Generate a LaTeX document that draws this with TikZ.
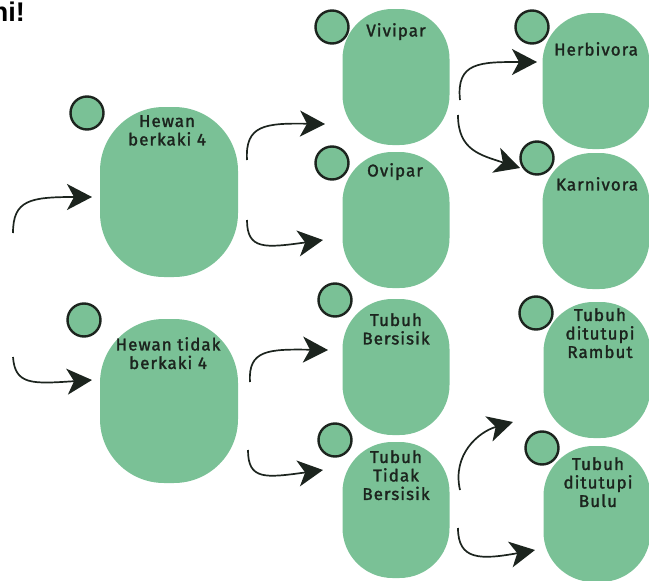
\documentclass[tikz,border=0pt]{standalone}
\usepackage{fontspec}
\setmainfont{Fira Sans}[LetterSpace=6, FakeBold=1.6]
\newfontfamily\titlefont{Liberation Sans}
\usetikzlibrary{arrows.meta}
\definecolor{leaf}{RGB}{122,193,150}
\definecolor{ink}{RGB}{28,36,30}
\begin{document}
\begin{tikzpicture}[x=1pt,y=-1pt,
  bigblob/.style={fill=leaf, draw=none, rounded corners=64pt, minimum width=138pt, inner sep=0pt},
  blob/.style={fill=leaf, draw=none, rounded corners=50pt, minimum width=107pt, minimum height=136pt, inner sep=0pt},
  dot/.style={circle, fill=leaf, draw=ink, line width=2.4pt, minimum size=33pt, inner sep=0pt},
  txt/.style={font=\fontsize{17}{18.5}\selectfont, text=ink, align=center, anchor=north, inner sep=0pt},
  conn/.style={draw=ink, line width=1.7pt, -{Stealth[length=25pt,width=26pt,inset=7pt]}}
]
\useasboundingbox (0,0) rectangle (649,581);

% title fragment
\node[font=\titlefont\bfseries\fontsize{27}{27}\selectfont, anchor=base east, inner sep=0pt] (title) at (25,21) {ni!};

% ovals
\node[bigblob, minimum height=170pt] (h4) at (169,192) {};
\node[bigblob, minimum height=164pt] (ht4) at (169,401) {};
\node[blob] (viv) at (396,77) {};
\node[blob] (ovi) at (396,220) {};
\node[blob] (tbs) at (396,367) {};
\node[blob] (tts) at (396,510) {};
\node[blob] (her) at (596,81) {};
\node[blob] (kar) at (596,221) {};
\node[blob] (ram) at (597,370) {};
\node[blob] (bul) at (597,514) {};

% small circles
\node[dot] (d1) at (87,113) {};
\node[dot] (d2) at (84,320) {};
\node[dot] (d3) at (332,27) {};
\node[dot] (d4) at (332,163) {};
\node[dot] (d5) at (335,300) {};
\node[dot] (d6) at (335,440) {};
\node[dot] (d7) at (532,27) {};
\node[dot] (d8) at (537,158) {};
\node[dot] (d9) at (536,313) {};
\node[dot] (d10) at (542,448) {};

% labels
\node[txt] (t1) at (167,115) {Hewan\\berkaki 4};
\node[txt] (t2) at (168,337) {Hewan tidak\\berkaki 4};
\node[txt] (t3) at (396,23) {Vivipar};
\node[txt] (t4) at (395,163) {Ovipar};
\node[txt] (t5) at (396,313) {Tubuh\\Bersisik};
\node[txt] (t6) at (396,450) {Tubuh\\Tidak\\Bersisik};
\node[txt] (t7) at (596,42) {Herbivora};
\node[txt] (t8) at (597,177) {Karnivora};
\node[txt] (t9) at (600,308) {Tubuh\\ditutupi\\Rambut};
\node[txt] (t10) at (598,457) {Tubuh\\ditutupi\\Bulu};

% arrow end points
\coordinate (a1s) at (13,233);  \coordinate (a1e) at (92,197);
\coordinate (a2s) at (13,357);  \coordinate (a2e) at (92,380);
\coordinate (a3s) at (247,160); \coordinate (a3e) at (325,124);
\coordinate (a4s) at (247,220); \coordinate (a4e) at (323,240);
\coordinate (a5s) at (250,382); \coordinate (a5e) at (328,350);
\coordinate (a6s) at (248,450); \coordinate (a6e) at (323,470);
\coordinate (a7s) at (460,100); \coordinate (a7e) at (537,62);
\coordinate (a8s) at (458,115); \coordinate (a8e) at (520,168);
\coordinate (a9s) at (460,490); \coordinate (a9e) at (513,422);
\coordinate (a10s) at (458,528); \coordinate (a10e) at (535,550);

\draw[conn] (a1s) .. controls (13,200) and (30,197) .. (a1e);
\draw[conn] (a2s) .. controls (15,385) and (32,384) .. (a2e);
\draw[conn] (a3s) .. controls (245,125) and (265,123) .. (a3e);
\draw[conn] (a4s) .. controls (247,250) and (265,248) .. (a4e);
\draw[conn] (a5s) .. controls (248,350) and (268,349) .. (a5e);
\draw[conn] (a6s) .. controls (248,480) and (265,478) .. (a6e);
\draw[conn] (a7s) .. controls (456,62) and (480,62) .. (a7e);
\draw[conn] (a8s) .. controls (458,150) and (480,155) .. (a8e);
\draw[conn] (a9s) .. controls (452,455) and (478,432) .. (a9e);
\draw[conn] (a10s) .. controls (458,560) and (480,560) .. (a10e);
\end{tikzpicture}
\end{document}
